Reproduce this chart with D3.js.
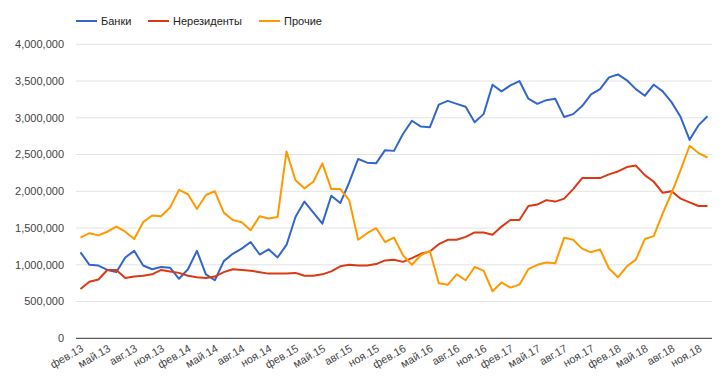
<!DOCTYPE html>
<html><head><meta charset="utf-8">
<script src="https://cdn.jsdelivr.net/npm/d3@7"></script>
<style>
html,body{margin:0;padding:0;background:#fff;}
text{font-family:Arial,"Liberation Sans",sans-serif;}
</style></head>
<body><svg id="chart" width="725" height="389"></svg>
<script>
const categories = [
"фев.13","мар.13","апр.13","май.13","июн.13","июл.13","авг.13","сен.13","окт.13","ноя.13","дек.13",
"янв.14","фев.14","мар.14","апр.14","май.14","июн.14","июл.14","авг.14","сен.14","окт.14","ноя.14","дек.14",
"янв.15","фев.15","мар.15","апр.15","май.15","июн.15","июл.15","авг.15","сен.15","окт.15","ноя.15","дек.15",
"янв.16","фев.16","мар.16","апр.16","май.16","июн.16","июл.16","авг.16","сен.16","окт.16","ноя.16","дек.16",
"янв.17","фев.17","мар.17","апр.17","май.17","июн.17","июл.17","авг.17","сен.17","окт.17","ноя.17","дек.17",
"янв.18","фев.18","мар.18","апр.18","май.18","июн.18","июл.18","авг.18","сен.18","окт.18","ноя.18","дек.18"];
const banks = [1170000,1000000,990000,930000,900000,1100000,1190000,990000,940000,970000,960000,810000,940000,1190000,870000,790000,1050000,1150000,1220000,1310000,1140000,1210000,1100000,1270000,1650000,1860000,1710000,1560000,1940000,1840000,2120000,2440000,2390000,2380000,2560000,2550000,2780000,2960000,2880000,2870000,3180000,3230000,3190000,3150000,2940000,3050000,3450000,3360000,3440000,3500000,3260000,3190000,3240000,3260000,3010000,3050000,3160000,3320000,3390000,3550000,3590000,3510000,3390000,3300000,3450000,3360000,3210000,3010000,2700000,2900000,3020000];
const nonResidents = [670000,770000,800000,930000,930000,820000,840000,850000,870000,930000,910000,890000,850000,830000,820000,840000,900000,940000,930000,920000,900000,880000,880000,880000,890000,850000,850000,870000,910000,980000,1000000,990000,990000,1010000,1060000,1070000,1040000,1090000,1150000,1180000,1280000,1340000,1340000,1380000,1440000,1440000,1410000,1520000,1610000,1610000,1800000,1820000,1880000,1860000,1900000,2030000,2180000,2180000,2180000,2230000,2270000,2330000,2350000,2220000,2130000,1980000,2000000,1900000,1850000,1800000,1800000];
const others = [1370000,1430000,1400000,1450000,1520000,1450000,1350000,1580000,1670000,1660000,1780000,2020000,1960000,1760000,1950000,2000000,1710000,1610000,1580000,1470000,1660000,1630000,1650000,2540000,2150000,2040000,2130000,2380000,2030000,2030000,1880000,1340000,1430000,1500000,1310000,1370000,1130000,1000000,1130000,1190000,750000,730000,870000,790000,970000,920000,640000,760000,690000,730000,940000,1000000,1030000,1020000,1370000,1340000,1220000,1170000,1210000,950000,830000,980000,1070000,1350000,1390000,1700000,1980000,2290000,2620000,2520000,2460000];
const seriesNames = ["Банки","Нерезиденты","Прочие"];
const seriesColors = ["#3366cc","#dc3912","#ff9900"];
const yTicks = [0,500000,1000000,1500000,2000000,2500000,3000000,3500000,4000000];
const xTickLabels = categories.filter((d,i)=>i%3===0);

const svg = d3.select("#chart");
const pLeft=76, pRight=712, pTop=44.3, pBottom=338.3;
const x = d3.scalePoint().domain(categories).range([pLeft,pRight]).padding(0.5);
const y = d3.scaleLinear().domain([0,4000000]).range([pBottom,pTop]);

svg.append("g").selectAll("line").data(yTicks.filter(d=>d>0)).join("line")
  .attr("x1",pLeft).attr("x2",pRight)
  .attr("y1",d=>y(d)).attr("y2",d=>y(d))
  .attr("stroke","#e3e3e3").attr("stroke-width",1);

const fmt = d3.format(",");
svg.append("g").selectAll("text").data(yTicks).join("text")
  .attr("x",64).attr("y",d=>y(d)).attr("dy","0.35em")
  .attr("text-anchor","end").attr("font-size",11).attr("fill","#444")
  .text(d=>fmt(d));

const data = [banks,nonResidents,others];
const line = d3.line().x((d,i)=>x(categories[i])).y(d=>y(d));
svg.append("g").selectAll("path").data(data).join("path")
  .attr("d",line).attr("fill","none")
  .attr("stroke",(d,i)=>seriesColors[i]).attr("stroke-width",2)
  .attr("stroke-linejoin","round");

svg.append("line").attr("x1",pLeft).attr("x2",pRight)
  .attr("y1",y(0)).attr("y2",y(0)).attr("stroke","#333").attr("stroke-width",1);

svg.append("g").selectAll("text").data(xTickLabels).join("text")
  .attr("transform",d=>`translate(${x(d)+2},${pBottom+9}) rotate(-30)`)
  .attr("text-anchor","end").attr("dy","0.35em")
  .attr("font-size",11).attr("fill","#444").text(d=>d);

const legendX = [76,148,259];
const lg = svg.append("g").selectAll("g").data(seriesNames).join("g")
  .attr("transform",(d,i)=>`translate(${legendX[i]},21)`);
lg.append("line").attr("x1",0).attr("x2",21).attr("y1",0).attr("y2",0)
  .attr("stroke",(d,i)=>seriesColors[i]).attr("stroke-width",2);
lg.append("text").attr("x",25).attr("dy","0.35em").attr("font-size",11)
  .attr("fill","#222").text(d=>d);
</script></body></html>
